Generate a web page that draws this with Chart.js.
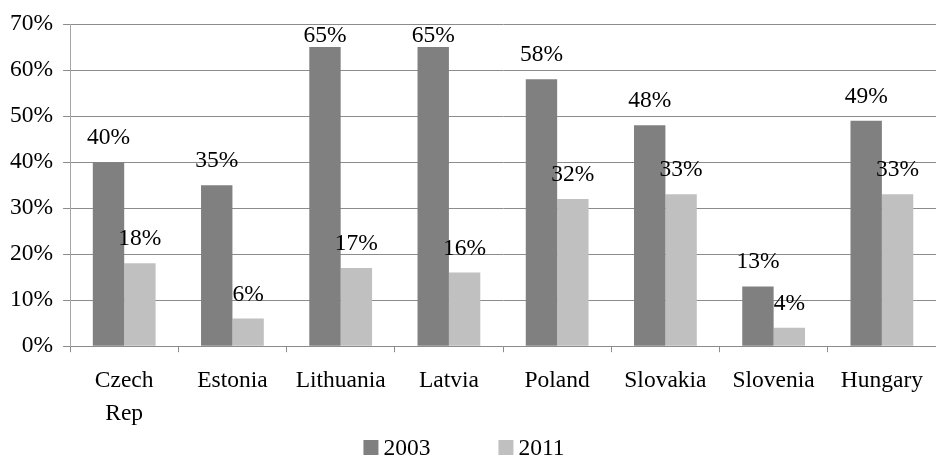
<!DOCTYPE html>
<html>
<head>
<meta charset="utf-8">
<script src="https://cdn.jsdelivr.net/npm/chart.js@4"></script>
<style>
  html, body { margin: 0; padding: 0; background: #fff; }
  #wrap { width: 936px; height: 455px; }
</style>
</head>
<body>
<div id="wrap"><canvas id="chart" width="936" height="455"></canvas></div>
<script>
const countries = [["Czech", "Rep"], "Estonia", "Lithuania", "Latvia", "Poland", "Slovakia", "Slovenia", "Hungary"];
const years = ["2003", "2011"];
const share2003 = [40, 35, 65, 65, 58, 48, 13, 49];
const share2011 = [18, 6, 17, 16, 32, 33, 4, 33];
const barColors = ["#808080", "#c0c0c0"];

const FONT = "'Liberation Serif', 'Times New Roman', serif";
const SIZE = 23.5;

// percent labels above each bar, kept inside the plot area at the top
const valueLabels = {
  id: "valueLabels",
  afterDatasetsDraw(chart) {
    const ctx = chart.ctx;
    const top = chart.chartArea.top;
    ctx.save();
    ctx.font = SIZE + "px " + FONT;
    ctx.fillStyle = "#000";
    ctx.textAlign = "center";
    ctx.textBaseline = "alphabetic";
    chart.data.datasets.forEach((ds, i) => {
      chart.getDatasetMeta(i).data.forEach((bar, j) => {
        const y = Math.max(bar.y - 18, top + 18);
        ctx.fillText(ds.data[j] + "%", bar.x, y);
      });
    });
    ctx.restore();
  },
};

// legend along the bottom edge, wide gap between the two entries
const bottomLegend = {
  id: "bottomLegend",
  afterDraw(chart) {
    const ctx = chart.ctx;
    const box = 15, gap = 5, spacing = 68;
    ctx.save();
    ctx.font = SIZE + "px " + FONT;
    ctx.textBaseline = "alphabetic";
    ctx.textAlign = "left";
    const items = chart.data.datasets.map((ds) => ({
      text: ds.label,
      color: ds.backgroundColor,
      w: box + gap + ctx.measureText(ds.label).width,
    }));
    const total = items.reduce((s, it) => s + it.w, 0) + spacing * (items.length - 1);
    let x = (chart.width - total) / 2 - 4;
    const base = 455;
    items.forEach((it) => {
      ctx.fillStyle = it.color;
      ctx.fillRect(x, base - box, box, box);
      ctx.fillStyle = "#000";
      ctx.fillText(it.text, x + box + gap, base);
      x += it.w + spacing;
    });
    ctx.restore();
  },
};

new Chart(document.getElementById("chart").getContext("2d"), {
  type: "bar",
  data: {
    labels: countries,
    datasets: [
      { label: years[0], data: share2003, backgroundColor: barColors[0] },
      { label: years[1], data: share2011, backgroundColor: barColors[1] },
    ],
  },
  options: {
    responsive: false,
    animation: false,
    devicePixelRatio: 1,
    layout: { padding: { top: 12, left: 0, right: 0, bottom: 13 } },
    datasets: { bar: { categoryPercentage: 0.58, barPercentage: 1.0 } },
    plugins: {
      legend: { display: false },
      tooltip: { enabled: false },
    },
    scales: {
      x: {
        grid: {
          offset: true,
          drawOnChartArea: false,
          tickLength: 6,
          color: "#8c8c8c",
        },
        border: { color: "#8c8c8c" },
        ticks: {
          color: "#000",
          padding: 12,
          maxRotation: 0,
          autoSkip: false,
          font: { family: FONT, size: SIZE, lineHeight: 1.4 },
        },
      },
      y: {
        min: 0,
        max: 70,
        grid: { color: "#8c8c8c", tickLength: 7 },
        border: { color: "#a6a6a6" },
        ticks: {
          stepSize: 10,
          color: "#000",
          padding: 10,
          font: { family: FONT, size: SIZE },
          callback: (v) => v + "%",
        },
      },
    },
  },
  plugins: [valueLabels, bottomLegend],
});
</script>
</body>
</html>
